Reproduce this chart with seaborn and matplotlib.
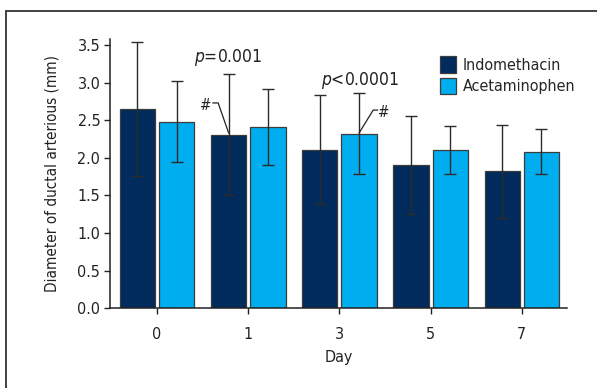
import matplotlib
matplotlib.use("Agg")
import matplotlib.pyplot as plt
from matplotlib import font_manager
from matplotlib.patches import Rectangle, Patch
import numpy as np
import pandas as pd
import seaborn as sns

# Ductus arteriosus diameter (mm), mean and SD per day
days = ["0", "1", "3", "5", "7"]
groups = ["Indomethacin", "Acetaminophen"]
indo_mean = [2.65, 2.31, 2.11, 1.90, 1.82]
indo_sd = [0.89, 0.81, 0.72, 0.65, 0.62]
acet_mean = [2.48, 2.41, 2.32, 2.10, 2.08]
acet_sd = [0.54, 0.51, 0.54, 0.32, 0.30]
colors = ["#002b5c", "#00adee"]

sns.set_style("white")

# pick a narrow sans face if one is installed
fonts = font_manager.fontManager.ttflist
names = {f.name for f in fonts}
stretch = "normal"
if "Liberation Sans Narrow" in names:
    family = "Liberation Sans Narrow"
elif any(f.name == "DejaVu Sans" and f.stretch == "condensed" for f in fonts):
    family = "DejaVu Sans"
    stretch = "condensed"
elif "Roboto Condensed" in names:
    family = "Roboto Condensed"
else:
    family = "Roboto"
plt.rcParams["font.family"] = [family, "DejaVu Sans"]
plt.rcParams["font.stretch"] = stretch
plt.rcParams["mathtext.fontset"] = "custom"
plt.rcParams["mathtext.it"] = f"{family}:italic"
plt.rcParams["mathtext.rm"] = family

df = pd.DataFrame({
    "Day": days * 2,
    "Group": [groups[0]] * len(days) + [groups[1]] * len(days),
    "Diameter": indo_mean + acet_mean,
    "SD": indo_sd + acet_sd,
})

fig = plt.figure(figsize=(5.97, 3.88), dpi=100)
ax = fig.add_axes([110 / 597, 1 - 308.3 / 388, 457 / 597, 269.3 / 388])

sns.barplot(data=df, x="Day", y="Diameter", hue="Group", order=days,
            hue_order=groups, palette=colors, errorbar=None, width=0.86,
            gap=0.1, edgecolor="#3c3c3c", linewidth=0.9, saturation=1,
            legend=False, ax=ax)

# error bars from the SD columns, centred on each drawn bar
sds = [indo_sd, acet_sd]
for cont, sd in zip(ax.containers, sds):
    xs = [p.get_x() + p.get_width() / 2 for p in cont.patches]
    hs = [p.get_height() for p in cont.patches]
    ax.errorbar(xs, hs, yerr=sd, fmt="none", ecolor="#2b2b2b",
                elinewidth=1.0, capsize=4, capthick=1.0, zorder=5)

ax.set_xlim(-0.516, 4.495)
ax.set_ylim(0, 3.58)
ax.set_yticks(np.arange(0, 3.51, 0.5))
ax.set_yticklabels([f"{v:.1f}" for v in np.arange(0, 3.51, 0.5)])
for s in ["top", "right"]:
    ax.spines[s].set_visible(False)
for s in ["left", "bottom"]:
    ax.spines[s].set_color("#222222")
    ax.spines[s].set_linewidth(1.1)
ax.tick_params(axis="both", which="both", direction="out", length=4,
               width=1.0, color="#222222", labelsize=11.5, labelcolor="#222222",
               left=True, bottom=True, pad=3)
ax.tick_params(axis="x", pad=9, length=4.5)
ax.set_xlabel("Day", fontsize=11.5, color="#222222", labelpad=6)
ax.set_ylabel("Diameter of ductal arterious (mm)", fontsize=11,
              color="#222222", labelpad=13)

# significance annotations
tc = "#222222"
ax.text(0.78, 3.33, "$p$=0.001", ha="center", va="center", fontsize=12.5, color=tc)
ax.text(2.226, 3.03, "$p$<0.0001", ha="center", va="center", fontsize=12.5, color=tc)
ax.text(0.53, 2.70, "#", ha="center", va="center", fontsize=11, color=tc)
ax.text(2.48, 2.60, "#", ha="center", va="center", fontsize=11, color=tc)
ax.plot([0.61, 0.67, 0.785], [2.73, 2.73, 2.33], color=tc, lw=0.9,
        clip_on=False, zorder=6)
ax.plot([2.42, 2.37, 2.215], [2.635, 2.635, 2.33], color=tc, lw=0.9,
        clip_on=False, zorder=6)

handles = [Patch(facecolor=c, edgecolor="#3c3c3c", linewidth=0.9) for c in colors]
fig.legend(handles, groups, loc="upper left",
           bbox_to_anchor=(429 / 597, 1 - 45 / 388), frameon=False,
           fontsize=11.5, handlelength=1.0, handleheight=1.2,
           handletextpad=0.4, labelspacing=0.3, borderpad=0.2)

# outer frame around the figure panel
fig.patches.append(Rectangle((6 / 597, -0.05), 1.0, 1 - 11 / 388 + 0.05,
                             transform=fig.transFigure, fill=False,
                             edgecolor="#333333", linewidth=1.3))

fig.savefig("out.png", dpi=100)
